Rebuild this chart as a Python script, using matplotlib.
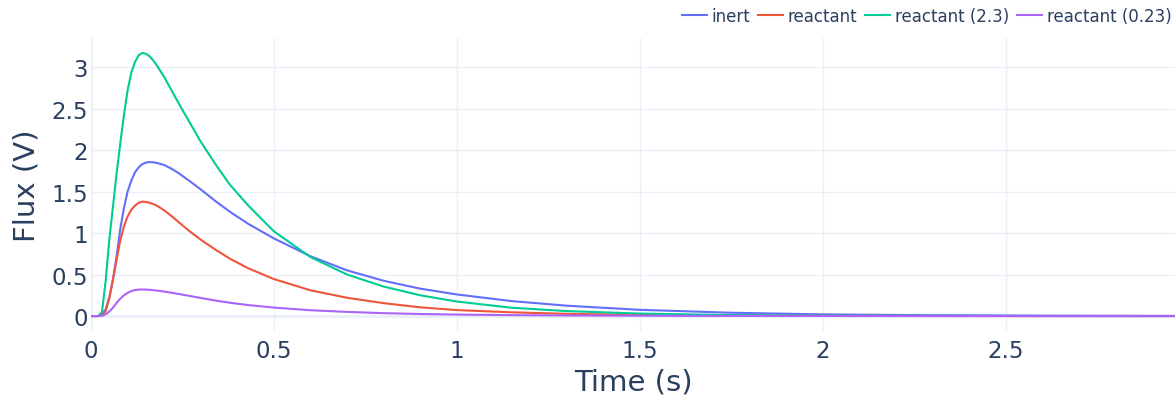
import matplotlib
import matplotlib.pyplot as plt

matplotlib.use("Agg")

# values
time_s = [0, 0.02, 0.03, 0.04, 0.05, 0.06, 0.07, 0.08, 0.09, 0.10, 0.11, 0.12,
          0.13, 0.14, 0.15, 0.16, 0.17, 0.18, 0.20, 0.22, 0.24, 0.27, 0.30,
          0.34, 0.38, 0.43, 0.50, 0.60, 0.70, 0.80, 0.90, 1.0, 1.15, 1.3, 1.5,
          1.75, 2.0, 2.3, 2.6, 3.0]

inert = [0, 0, 0.02, 0.08, 0.22, 0.44, 0.72, 1.05, 1.30, 1.50, 1.63, 1.73,
         1.79, 1.83, 1.85, 1.855, 1.852, 1.845, 1.82, 1.775, 1.72, 1.625,
         1.525, 1.385, 1.255, 1.11, 0.935, 0.72, 0.55, 0.425, 0.33, 0.26,
         0.18, 0.125, 0.075, 0.04, 0.02, 0.01, 0.005, 0.002]

reactant = [0, 0, 0.01, 0.06, 0.22, 0.44, 0.68, 0.91, 1.08, 1.20, 1.28, 1.33,
            1.365, 1.378, 1.375, 1.365, 1.35, 1.33, 1.275, 1.205, 1.13, 1.02,
            0.92, 0.80, 0.69, 0.575, 0.445, 0.31, 0.22, 0.155, 0.105, 0.072,
            0.045, 0.027, 0.013, 0.006, 0.003, 0.001, 0, 0]

reactant_23 = [0, 0, 0.05, 0.42, 0.92, 1.32, 1.72, 2.08, 2.42, 2.72, 2.93,
               3.06, 3.14, 3.17, 3.16, 3.13, 3.08, 3.02, 2.88, 2.72, 2.56,
               2.33, 2.10, 1.83, 1.58, 1.33, 1.02, 0.71, 0.50, 0.355, 0.25,
               0.175, 0.10, 0.06, 0.03, 0.012, 0.005, 0.002, 0.001, 0]

reactant_023 = [0, 0, 0.003, 0.02, 0.055, 0.10, 0.16, 0.21, 0.25, 0.28, 0.30,
                0.313, 0.319, 0.32, 0.319, 0.316, 0.312, 0.307, 0.295, 0.281,
                0.266, 0.242, 0.218, 0.187, 0.16, 0.132, 0.102, 0.07, 0.05,
                0.035, 0.025, 0.018, 0.011, 0.007, 0.004, 0.002, 0.001, 0, 0, 0]

series = [
    ("inert", inert, "#636efa"),
    ("reactant", reactant, "#EF553B"),
    ("reactant (2.3)", reactant_23, "#00cc96"),
    ("reactant (0.23)", reactant_023, "#ab63fa"),
]

x_ticks = [0, 0.5, 1, 1.5, 2, 2.5]
x_tick_labels = ["0", "0.5", "1", "1.5", "2", "2.5"]
y_ticks = [0, 0.5, 1, 1.5, 2, 2.5, 3]
y_tick_labels = ["0", "0.5", "1", "1.5", "2", "2.5", "3"]

text_color = "#2a3f5f"
grid_color = "#ebf0f8"

plt.rcParams["font.family"] = ["DejaVu Sans"]

fig = plt.figure(figsize=(11.75, 4.02), dpi=100)
ax = fig.add_axes([91 / 1175, 1 - 332 / 402, 1 - 91 / 1175, (332 - 39) / 402])

for name, values, color in series:
    ax.plot(time_s, values, color=color, linewidth=1.5, label=name, zorder=3)

ax.set_xlim(0, 2.962)
ax.set_ylim(-0.18, 3.35)
ax.set_xticks(x_ticks)
ax.set_xticklabels(x_tick_labels)
ax.set_yticks(y_ticks)
ax.set_yticklabels(y_tick_labels)
ax.tick_params(length=0, labelsize=16.5, colors=text_color)
ax.tick_params(axis="x", pad=6)
ax.tick_params(axis="y", pad=2)
ax.grid(True, color=grid_color, linewidth=1, zorder=0)
ax.axhline(0, color=grid_color, linewidth=2, zorder=1)
ax.axvline(0, color=grid_color, linewidth=2, zorder=1)
for spine in ax.spines.values():
    spine.set_visible(False)

ax.set_xlabel("Time (s)", fontsize=21, color=text_color, labelpad=4)
ax.set_ylabel("Flux (V)", fontsize=21, color=text_color, labelpad=8)

fig.legend(
    loc="center right",
    bbox_to_anchor=(0.997, 1 - 17 / 402),
    ncol=4,
    frameon=False,
    fontsize=12,
    labelcolor=text_color,
    handlelength=1.5,
    handletextpad=0.3,
    columnspacing=0.45,
    borderpad=0,
    borderaxespad=0,
)

fig.savefig("out.png", dpi=100)
plt.close(fig)
